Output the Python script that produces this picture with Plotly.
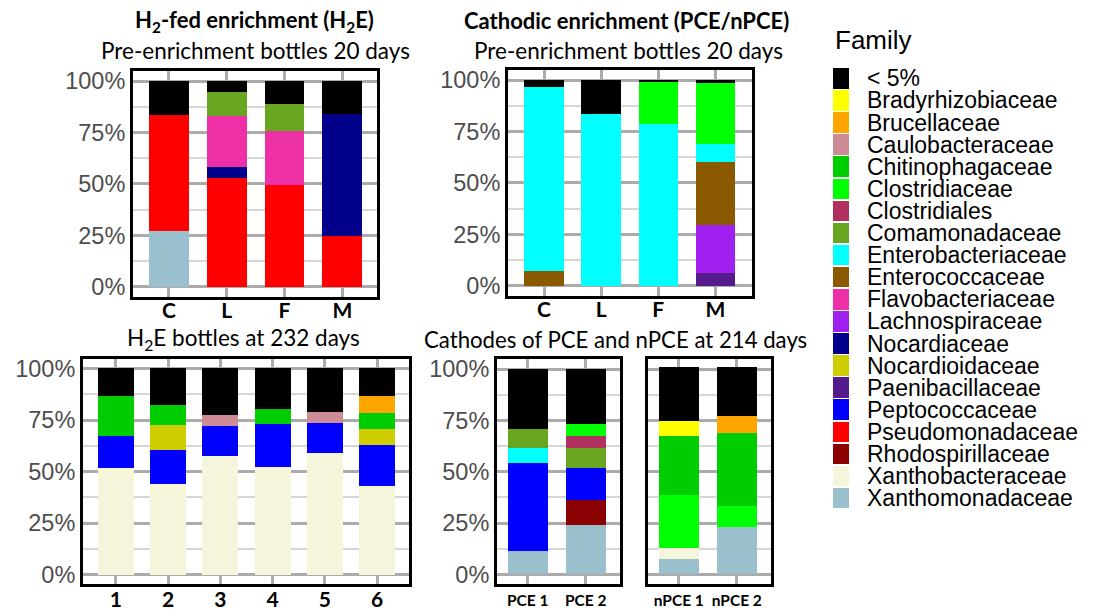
import plotly.graph_objects as go

# ---------------- data ----------------
families = ["< 5%", "Bradyrhizobiaceae", "Brucellaceae", "Caulobacteraceae",
            "Chitinophagaceae", "Clostridiaceae", "Clostridiales", "Comamonadaceae",
            "Enterobacteriaceae", "Enterococcaceae", "Flavobacteriaceae",
            "Lachnospiraceae", "Nocardiaceae", "Nocardioidaceae", "Paenibacillaceae",
            "Peptococcaceae", "Pseudomonadaceae", "Rhodospirillaceae",
            "Xanthobacteraceae", "Xanthomonadaceae"]
family_colors = ["#000000", "#FFFF00", "#FFA500", "#CD8C95", "#00CD00", "#00FF00",
                 "#B03060", "#68A520", "#00FFFF", "#8B5A00", "#EE30A7", "#A020F0",
                 "#00008B", "#CDCD00", "#551A8B", "#0000FF", "#FF0000", "#8B0000",
                 "#F5F5DC", "#9AC0CD"]

pre_samples = ["C", "L", "F", "M"]
h2e_pre = {
    "Xanthomonadaceae": [27.0, 0, 0, 0],
    "Pseudomonadaceae": [56.5, 53.0, 49.3, 24.6],
    "Nocardiaceae": [0, 5.3, 0, 59.2],
    "Flavobacteriaceae": [0, 24.8, 26.6, 0],
    "Comamonadaceae": [0, 11.6, 13.0, 0],
    "< 5%": [16.5, 5.3, 11.1, 16.2],
}
cath_pre = {
    "Paenibacillaceae": [0, 0, 0, 6.2],
    "Lachnospiraceae": [0, 0, 0, 23.2],
    "Enterococcaceae": [7.0, 0, 0, 30.9],
    "Enterobacteriaceae": [89.5, 83.5, 78.7, 8.5],
    "Clostridiaceae": [0, 0, 20.7, 29.6],
    "< 5%": [3.5, 16.5, 0.6, 1.6],
}
h2e_samples = ["1", "2", "3", "4", "5", "6"]
h2e_232 = {
    "Xanthobacteraceae": [51.7, 44.2, 57.6, 52.2, 58.9, 42.9],
    "Peptococcaceae": [15.5, 16.3, 14.6, 20.8, 14.5, 20.0],
    "Nocardioidaceae": [0, 12.0, 0, 0, 0, 7.5],
    "Chitinophagaceae": [19.2, 9.9, 0, 7.2, 0, 8.2],
    "Caulobacteraceae": [0, 0, 5.4, 0, 5.5, 0],
    "Brucellaceae": [0, 0, 0, 0, 0, 7.8],
    "< 5%": [13.6, 17.6, 22.4, 19.8, 21.1, 13.6],
}
pce_samples = ["PCE 1", "PCE 2"]
pce_214 = {
    "Xanthomonadaceae": [11.4, 24.3],
    "Rhodospirillaceae": [0, 12.1],
    "Peptococcaceae": [42.7, 15.3],
    "Enterobacteriaceae": [7.6, 0],
    "Comamonadaceae": [9.2, 10.0],
    "Clostridiales": [0, 5.9],
    "Clostridiaceae": [0, 5.7],
    "< 5%": [29.1, 26.7],
}
npce_samples = ["nPCE 1", "nPCE 2"]
npce_214 = {
    "Xanthomonadaceae": [7.7, 23.3],
    "Xanthobacteraceae": [5.3, 0],
    "Clostridiaceae": [25.8, 10.0],
    "Chitinophagaceae": [28.5, 35.6],
    "Bradyrhizobiaceae": [7.6, 0],
    "Brucellaceae": [0, 8.4],
    "< 5%": [26.2, 23.8],
}
y_ticks = [0, 25, 50, 75, 100]
y_ticktext = ["0%", "25%", "50%", "75%", "100%"]

# ---------------- layout helpers ----------------
W, H = 1098, 615


def xd(a, b):
    return [a / W, b / W]


def yd(top, bottom):
    return [1 - bottom / H, 1 - top / H]


color_of = dict(zip(families, family_colors))

panels = [
    # data, samples, xdomain, ydomain, xrange, yrange, show y labels, xtick font size, standoff
    (h2e_pre, pre_samples, xd(133, 377), yd(69, 297), [-0.62, 3.6], [-4.8, 104.8], True, 21, -7),
    (cath_pre, pre_samples, xd(508, 752), yd(68, 296), [-0.63, 3.64], [-4.8, 104.8], True, 21, -7),
    (h2e_232, h2e_samples, xd(83, 409), yd(360, 588), [-0.63, 5.61], [-4.6, 104.6], True, 21, -6),
    (pce_214, pce_samples, xd(497, 620), yd(360, 588), [-0.53, 1.59], [-4.8, 105.0], True, 15.5, 0),
    (npce_214, npce_samples, xd(648, 771), yd(360, 588), [-0.53, 1.59], [-4.8, 105.0], False, 15.5, 0),
]

fig = go.Figure()
layout = dict(
    width=W, height=H, margin=dict(l=0, r=0, t=0, b=0),
    paper_bgcolor="white", plot_bgcolor="white",
    barmode="stack", showlegend=False,
    font=dict(family="Liberation Sans", color="black"),
)

GRID = "#ABABAB"
MINOR = "#D6D6D6"

for i, (data, samples, xdom, ydom, xr, yr, showy, xfs, xso) in enumerate(panels, start=1):
    xa = "x" if i == 1 else f"x{i}"
    ya = "y" if i == 1 else f"y{i}"
    for fam in reversed(families):
        if fam in data:
            fig.add_trace(go.Bar(
                x=samples, y=data[fam], name=fam, xaxis=xa, yaxis=ya,
                marker=dict(color=color_of[fam], line=dict(width=0)),
                width=0.69, hoverinfo="name+y",
            ))
    layout["xaxis" if i == 1 else f"xaxis{i}"] = dict(
        domain=xdom, anchor=ya, type="category", categoryorder="array",
        categoryarray=samples, range=xr,
        showgrid=True, gridcolor=GRID, gridwidth=3, zeroline=False,
        showline=True, mirror=True, linecolor="black", linewidth=3,
        ticks="", ticklabelstandoff=xso,
        tickfont=dict(family="Lato", size=xfs, color="black", weight="bold"),
        fixedrange=True,
    )
    layout["yaxis" if i == 1 else f"yaxis{i}"] = dict(
        domain=ydom, anchor=xa, range=yr,
        tickmode="array", tickvals=y_ticks, ticktext=y_ticktext,
        showticklabels=showy,
        showgrid=True, gridcolor=GRID, gridwidth=3, zeroline=False,
        minor=dict(tickvals=[12.5, 37.5, 62.5, 87.5], showgrid=True,
                   gridcolor=MINOR, gridwidth=2, ticks=""),
        showline=True, mirror=True, linecolor="black", linewidth=3,
        ticks="", tickfont=dict(family="Liberation Sans", size=23.5, color="#4D4D4D"),
        fixedrange=True,
    )

# ---------------- legend drawn as a small bar axis ----------------
leg_idx = list(range(len(families)))
fig.add_trace(go.Bar(
    x=[1] * len(families), y=leg_idx, orientation="h",
    marker=dict(color=family_colors, line=dict(width=0)), width=0.93,
    xaxis="x6", yaxis="y6", hoverinfo="skip",
))
layout["xaxis6"] = dict(domain=xd(833, 849), anchor="y6", range=[0, 1], visible=False,
                        fixedrange=True)
layout["yaxis6"] = dict(domain=yd(65, 512), anchor="x6", range=[19.5, -0.5],
                        tickmode="array", tickvals=leg_idx, ticktext=families,
                        side="right", showgrid=False, zeroline=False, showline=False,
                        ticks="", ticklabelstandoff=17,
                        tickfont=dict(family="Liberation Sans", size=23, color="black"),
                        fixedrange=True)

# ---------------- titles ----------------
ann = []


def add_text(text, cx, cy, size, family="Lato", bold=False, xanchor="center"):
    ann.append(dict(
        text=text, x=cx / W, y=1 - cy / H, xref="paper", yref="paper",
        xanchor=xanchor, yanchor="middle", showarrow=False,
        font=dict(family=family, size=size, color="black",
                  weight="bold" if bold else "normal"),
    ))


add_text("H<sub>2</sub>-fed enrichment (H<sub>2</sub>E)", 254, 18, 22, bold=True)
add_text("Pre-enrichment bottles 20 days", 255, 48, 22.5)
add_text("Cathodic enrichment (PCE/nPCE)", 626, 18, 22, bold=True)
add_text("Pre-enrichment bottles 20 days", 628, 48, 22.5)
add_text("H<sub>2</sub>E bottles at 232 days", 243, 340, 22.5)
add_text("Cathodes of PCE and nPCE at 214 days", 615, 340, 22.2)
add_text("Family", 833, 37, 26, family="Liberation Sans", xanchor="left")

layout["annotations"] = ann
fig.update_layout(**layout)
fig.write_html("out.html", config={"displayModeBar": False},
               post_script="document.body.style.margin='0';document.body.style.overflow='hidden';")
